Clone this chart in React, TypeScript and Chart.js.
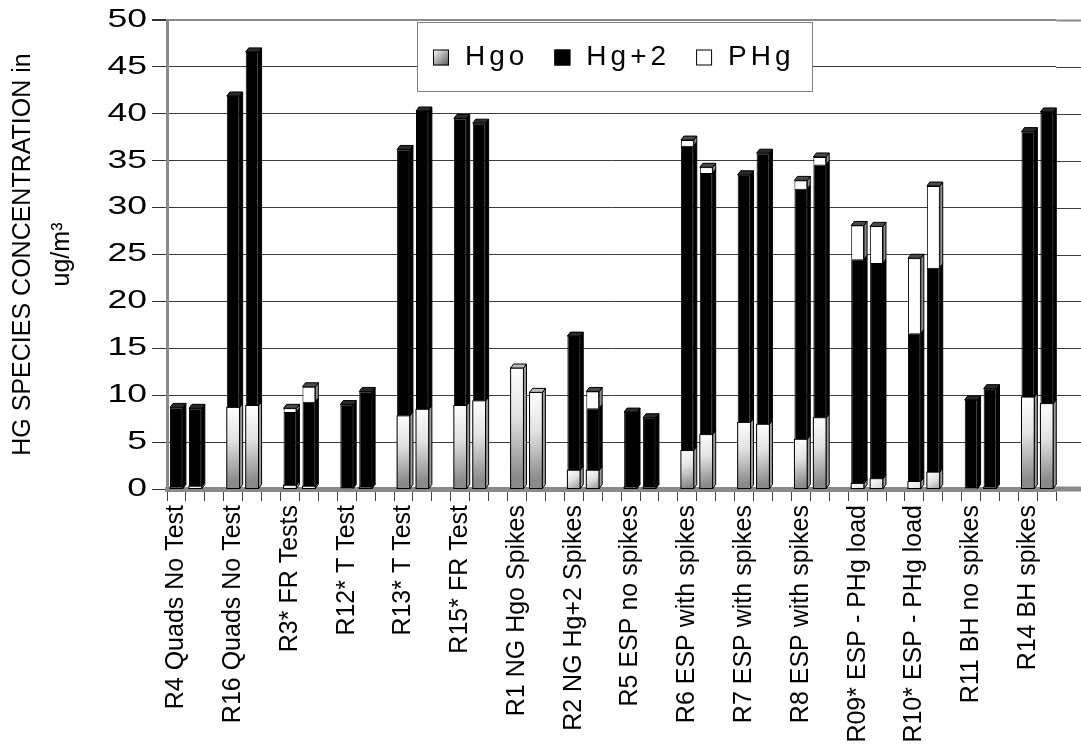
import React, { useEffect, useRef } from 'react';
import { Chart, registerables } from 'chart.js';

Chart.register(...registerables);

const FONT = "'Liberation Sans', Arial, Helvetica, sans-serif";

// Category groups (two bars per group)
const groupLabels = [
  'R4 Quads No Test',
  'R16 Quads No Test',
  'R3* FR Tests',
  'R12* T Test',
  'R13* T Test',
  'R15* FR Test',
  'R1 NG Hgo Spikes',
  'R2 NG Hg+2 Spikes',
  'R5 ESP no spikes',
  'R6 ESP with spikes',
  'R7 ESP with spikes',
  'R8 ESP with spikes',
  'R09* ESP - PHg load',
  'R10* ESP - PHg load',
  'R11 BH no spikes',
  'R14 BH spikes',
];

// values per bar: [group1 bar1, group1 bar2, group2 bar1, ...]
const hgoValues = [
  0.2, 0.3, 8.7, 8.9, 0.4, 0.3, 0, 0.2, 7.8, 8.5, 8.9, 9.4, 12.9, 10.3, 2.0, 2.0,
  0.2, 0.2, 4.1, 5.8, 7.1, 6.9, 5.3, 7.6, 0.6, 1.1, 0.8, 1.8, 0, 0.2, 9.8, 9.1,
];
const hg2Values = [
  8.5, 8.3, 33.2, 37.7, 7.8, 9.0, 9.0, 10.2, 28.4, 31.8, 30.6, 29.6, 0, 0, 14.3, 6.6,
  8.0, 7.4, 32.5, 27.9, 26.4, 28.9, 26.7, 27.0, 23.9, 23.0, 15.8, 21.8, 9.5, 10.5, 28.3, 31.1,
];
const phgValues = [
  0, 0, 0, 0, 0.4, 1.6, 0, 0, 0, 0, 0, 0, 0, 0, 0, 1.8,
  0, 0, 0.6, 0.6, 0, 0, 0.9, 0.8, 3.6, 3.9, 8.0, 8.7, 0, 0, 0, 0,
];

const seriesNames = ['Hgo', 'Hg+2', 'PHg'];
const yTitle = ['HG SPECIES CONCENTRATION in', 'ug/m³'];

// slots: bar1, bar2, empty spacer (no spacer after the last group)
function buildSlots(values: number[]): (number | null)[] {
  const out: (number | null)[] = [];
  for (let g = 0; g < groupLabels.length; g++) {
    out.push(values[2 * g], values[2 * g + 1]);
    if (g < groupLabels.length - 1) out.push(null);
  }
  return out;
}
const slotLabels: string[] = groupLabels.flatMap((l, g) =>
  g < groupLabels.length - 1 ? [l, '', ''] : [l, '']
);

const DX = 3;
const DY = 4;
const sideColors = ['#9a9a9a', '#000000', '#8c8c8c'];
const capColors = ['#bdbdbd', '#2a2a2a', '#4a4a4a'];
const Y_LABEL_STRETCH = 1.42;

const wallPlugin = {
  id: 'wallExt',
  beforeDatasetsDraw(chart: any) {
    const ctx: CanvasRenderingContext2D = chart.ctx;
    const ys = chart.scales.y;
    const area = chart.chartArea;
    ctx.save();
    ys.ticks.forEach((t: any) => {
      const py = Math.round(ys.getPixelForValue(t.value)) + 0.5;
      ctx.strokeStyle = t.value === 50 ? '#8a8a8a' : '#3c3c3c';
      ctx.lineWidth = t.value === 50 ? 2 : 1;
      ctx.beginPath();
      ctx.moveTo(area.right, py);
      ctx.lineTo(chart.width, py);
      ctx.stroke();
    });
    ctx.fillStyle = '#8a8a8a';
    ctx.fillRect(area.right, area.bottom - 2.5, chart.width - area.right, 5);
    ctx.restore();
  },
};

const depthPlugin = {
  id: 'depth3d',
  afterDatasetsDraw(chart: any) {
    const ctx: CanvasRenderingContext2D = chart.ctx;
    const n = chart.data.labels.length;
    const dsets = chart.data.datasets;
    ctx.save();
    for (let i = 0; i < n; i++) {
      let topIdx = -1;
      dsets.forEach((ds: any, d: number) => {
        const v = ds.data[i];
        if (v != null && v > 0) topIdx = d;
      });
      dsets.forEach((ds: any, d: number) => {
        const v = ds.data[i];
        if (v == null || v <= 0) return;
        const el = chart.getDatasetMeta(d).data[i];
        const { x, y, base, width } = el.getProps(['x', 'y', 'base', 'width'], true);
        const l = x - width / 2;
        const r = x + width / 2;
        const t = Math.min(y, base);
        const b = Math.max(y, base);
        if (d === 0) {
          const g = ctx.createLinearGradient(l, t, r, t + Math.max(20, (b - t) * 0.9));
          g.addColorStop(0, '#ffffff');
          g.addColorStop(0.45, '#e2e2e2');
          g.addColorStop(1, '#8a8a8a');
          ctx.fillStyle = g;
          ctx.fillRect(l, t, width, b - t);
          ctx.strokeStyle = '#000';
          ctx.lineWidth = 1;
          ctx.strokeRect(l, t, width, b - t);
        }
        // right side face
        ctx.beginPath();
        ctx.moveTo(r, b);
        ctx.lineTo(r + DX, b - DY);
        ctx.lineTo(r + DX, t - DY);
        ctx.lineTo(r, t);
        ctx.closePath();
        ctx.fillStyle = sideColors[d];
        ctx.fill();
        ctx.strokeStyle = '#000';
        ctx.lineWidth = 1;
        ctx.stroke();
        if (d === topIdx) {
          ctx.beginPath();
          ctx.moveTo(l, t);
          ctx.lineTo(l + DX, t - DY);
          ctx.lineTo(r + DX, t - DY);
          ctx.lineTo(r, t);
          ctx.closePath();
          ctx.fillStyle = capColors[d];
          ctx.fill();
          ctx.strokeStyle = '#000';
          ctx.stroke();
        }
      });
    }
    ctx.restore();
    // y tick labels are drawn in a later layer (ticks.z = 1): widen them horizontally
    const ys = chart.scales.y;
    const xr = ys.right - 20;
    ctx.save();
    ctx.translate(xr, 0);
    ctx.scale(Y_LABEL_STRETCH, 1);
    ctx.translate(-xr, 0);
  },
  afterDraw(chart: any) {
    chart.ctx.restore();
  },
};

const legendPlugin = {
  id: 'boxLegend',
  afterDraw(chart: any) {
    const ctx: CanvasRenderingContext2D = chart.ctx;
    const x0 = 417;
    const y0 = 22;
    const w = 395;
    const h = 69;
    ctx.save();
    ctx.fillStyle = '#ffffff';
    ctx.fillRect(x0, y0, w, h);
    ctx.strokeStyle = '#808080';
    ctx.lineWidth = 1;
    ctx.strokeRect(x0 + 0.5, y0 + 0.5, w, h);
    const cy = y0 + h / 2 + 1;
    ctx.font = `28px ${FONT}`;
    (ctx as any).letterSpacing = '4px';
    ctx.textBaseline = 'middle';
    ctx.textAlign = 'left';
    let x = x0 + 16;
    const box = 16;
    chart.data.datasets.forEach((ds: any, d: number) => {
      const sy = cy - box / 2;
      if (d === 0) {
        const g = ctx.createLinearGradient(x, sy, x + box, sy + box);
        g.addColorStop(0, '#ffffff');
        g.addColorStop(1, '#555555');
        ctx.fillStyle = g;
      } else {
        ctx.fillStyle = d === 1 ? '#000' : '#fff';
      }
      ctx.fillRect(x, sy, box, box);
      ctx.strokeStyle = '#000';
      ctx.strokeRect(x + 0.5, sy + 0.5, box - 1, box - 1);
      x += box + 16;
      ctx.fillStyle = '#000';
      ctx.fillText(ds.label, x, cy);
      x += ctx.measureText(ds.label).width + 26;
    });
    ctx.restore();
  },
};

export default function App() {
  const ref = useRef<HTMLCanvasElement | null>(null);
  useEffect(() => {
    if (!ref.current) return;
    const chart = new Chart(ref.current, {
      type: 'bar',
      data: {
        labels: slotLabels,
        datasets: [
          { label: seriesNames[0], data: buildSlots(hgoValues), backgroundColor: '#d0d0d0', borderColor: '#000', borderWidth: 1 },
          { label: seriesNames[1], data: buildSlots(hg2Values), backgroundColor: '#000', borderColor: '#000', borderWidth: 1 },
          { label: seriesNames[2], data: buildSlots(phgValues), backgroundColor: '#fff', borderColor: '#000', borderWidth: 1 },
        ],
      },
      options: {
        animation: false,
        responsive: true,
        maintainAspectRatio: false,
        datasets: { bar: { barPercentage: 0.68, categoryPercentage: 1.0 } },
        layout: { padding: { left: 0, right: 15, top: 17, bottom: 0 } },
        plugins: { legend: { display: false }, tooltip: { enabled: false } },
        scales: {
          x: {
            stacked: true,
            ticks: {
              autoSkip: false,
              maxRotation: 90,
              minRotation: 90,
              font: { size: 25, family: FONT },
              color: '#000',
              padding: 4,
            },
            grid: { offset: true, drawOnChartArea: false, drawTicks: true, tickLength: 12, color: '#444' },
            border: { color: '#8a8a8a', width: 5 },
            afterFit: (s: any) => { s.height = 263; },
          },
          y: {
            stacked: true,
            min: 0,
            max: 50,
            ticks: { stepSize: 5, font: { size: 25, family: FONT }, color: '#000', padding: 5, z: 1 },
            grid: {
              color: (c: any) => (c.tick && c.tick.value === 50 ? '#8a8a8a' : '#3c3c3c'),
              lineWidth: (c: any) => (c.tick && c.tick.value === 50 ? 2 : 1),
              tickLength: 15,
              tickColor: '#333',
            },
            border: { color: '#8a8a8a', width: 3 },
            title: {
              display: true,
              text: yTitle,
              font: { size: 25, family: FONT, lineHeight: 1.56 },
              color: '#000',
              padding: { top: 4, bottom: 0 },
            },
            afterFit: (s: any) => { s.width = 167; },
          },
        },
      },
      plugins: [wallPlugin, depthPlugin, legendPlugin],
    } as any);
    return () => chart.destroy();
  }, []);
  return (
    <div style={{ position: 'absolute', left: 0, top: 0, width: 1081, height: 752, background: '#fff' }}>
      <canvas ref={ref} />
    </div>
  );
}
